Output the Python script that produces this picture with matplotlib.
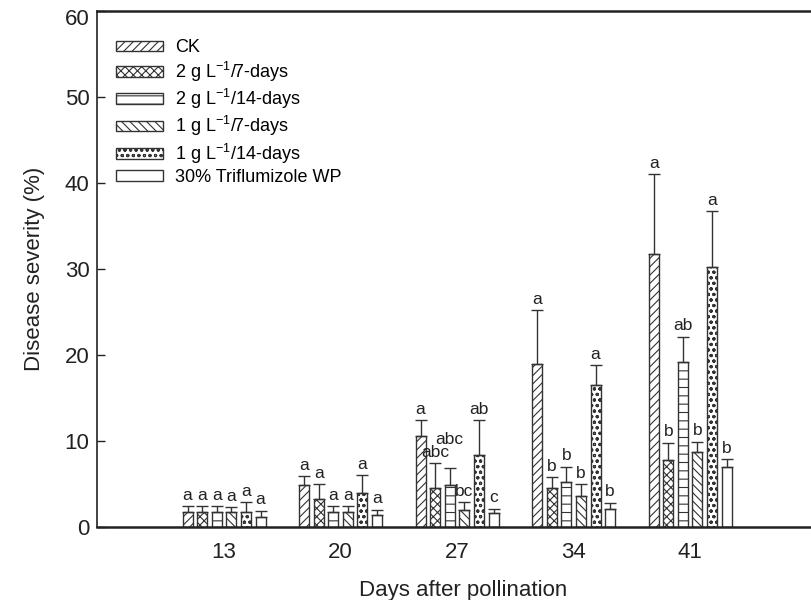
import numpy as np
import matplotlib
matplotlib.use("Agg")
from matplotlib import pyplot as plt

plt.rcParams["font.family"] = ["Liberation Sans", "DejaVu Sans"]
plt.rcParams["hatch.linewidth"] = 0.8
plt.rcParams["mathtext.fontset"] = "custom"
plt.rcParams["mathtext.rm"] = "Liberation Sans"

days = ["13", "20", "27", "34", "41"]
treatments = [
    "CK",
    "2 g L$^{-1}$/7-days",
    "2 g L$^{-1}$/14-days",
    "1 g L$^{-1}$/7-days",
    "1 g L$^{-1}$/14-days",
    "30% Triflumizole WP",
]
y_ticks = [0, 10, 20, 30, 40, 50, 60]

# mean disease severity (%) per treatment, one value per day
ck = [1.7, 4.9, 10.6, 19.0, 31.8]
g2_7d = [1.8, 3.3, 4.5, 4.5, 7.8]
g2_14d = [1.8, 1.8, 4.9, 5.2, 19.2]
g1_7d = [1.7, 1.8, 2.0, 3.6, 8.7]
g1_14d = [1.7, 3.9, 8.4, 16.5, 30.2]
trif = [1.2, 1.4, 1.6, 2.1, 7.0]

# upper error (sd)
ck_err = [0.7, 1.0, 1.8, 6.2, 9.2]
g2_7d_err = [0.6, 1.7, 2.9, 1.3, 2.0]
g2_14d_err = [0.6, 0.6, 2.0, 1.8, 2.9]
g1_7d_err = [0.6, 0.6, 0.9, 1.4, 1.2]
g1_14d_err = [1.2, 2.1, 4.0, 2.3, 6.5]
trif_err = [0.7, 0.6, 0.5, 0.7, 0.9]

# significance letters
ck_sig = ["a", "a", "a", "a", "a"]
g2_7d_sig = ["a", "a", "abc", "b", "b"]
g2_14d_sig = ["a", "a", "abc", "b", "ab"]
g1_7d_sig = ["a", "a", "bc", "b", "b"]
g1_14d_sig = ["a", "a", "ab", "a", "a"]
trif_sig = ["a", "a", "c", "b", "b"]

means = [ck, g2_7d, g2_14d, g1_7d, g1_14d, trif]
errs = [ck_err, g2_7d_err, g2_14d_err, g1_7d_err, g1_14d_err, trif_err]
sigs = [ck_sig, g2_7d_sig, g2_14d_sig, g1_7d_sig, g1_14d_sig, trif_sig]
hatches = ["////", "xxxx", "--", "\\\\\\\\", "ooo", ""]

fig = plt.figure(figsize=(8.12, 6.0), dpi=100)
ax = fig.add_axes([97 / 812, 73 / 600, 733 / 812, 516 / 600])

x = np.arange(len(days))
step = 0.1253
width = 0.086
edge = "#333333"
ink = "#222222"

for i in range(len(treatments)):
    pos = x + (i - 2.5) * step
    ax.bar(pos, means[i], width, color="white", edgecolor=edge,
           hatch=hatches[i], linewidth=1.0, label=treatments[i], zorder=2)
    lower = np.zeros(len(days))
    ax.errorbar(pos, means[i], yerr=[lower, errs[i]], fmt="none",
                ecolor=edge, elinewidth=1.0, capsize=4, capthick=1.0, zorder=3)
    for j in range(len(days)):
        lift = 2.5
        # the second "abc" at day 27 sits above its neighbour
        if i == 2 and j == 2:
            lift = 15
        ax.annotate(sigs[i][j], (pos[j], means[i][j] + errs[i][j]),
                    xytext=(0, lift), textcoords="offset points",
                    ha="center", va="bottom", fontsize=12.5, color=ink)

ax.set_xlim(-1.09, 5.2)
ax.set_ylim(0, 60)
ax.set_xticks(x)
ax.set_xticklabels(days)
ax.set_yticks(y_ticks)
# the top label sits a little below the frame, drawn separately
ax.set_yticklabels([str(v) for v in y_ticks[:-1]] + [""])
ax.annotate(str(y_ticks[-1]), (0, y_ticks[-1]), xycoords=("axes fraction", "data"),
            xytext=(-5.5, -6), textcoords="offset points", ha="right",
            va="center", fontsize=16, color=ink)
ax.tick_params(axis="x", length=0, pad=11, labelsize=16, colors=ink)
ax.tick_params(axis="y", direction="in", length=6, width=1, pad=5.5,
               labelsize=16, colors=ink)
ax.spines["right"].set_visible(False)
ax.spines["left"].set_linewidth(1.2)
ax.spines["top"].set_linewidth(1.8)
ax.spines["bottom"].set_linewidth(1.8)
for s in ax.spines.values():
    s.set_color(ink)

ax.set_xlabel("Days after pollination", fontsize=16, labelpad=12, color=ink)
ax.set_ylabel("Disease severity (%)", fontsize=16, labelpad=14, color=ink)

ax.legend(loc="upper left", bbox_to_anchor=(0.026, 0.945), frameon=False,
          fontsize=13, handlelength=2.6, handleheight=0.55, labelspacing=0.18,
          handletextpad=0.65, borderaxespad=0, borderpad=0)

fig.savefig("out.png", dpi=100)
